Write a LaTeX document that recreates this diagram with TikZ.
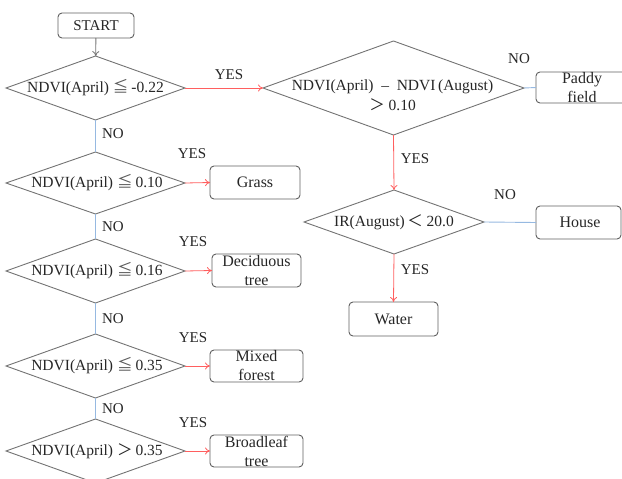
\documentclass[tikz,border=0pt]{standalone}
\usepackage{fontspec}
\setmainfont{Liberation Serif}
\newfontfamily\cjk{Noto Sans CJK SC}
\usetikzlibrary{shapes.geometric,arrows.meta}
\definecolor{diagray}{RGB}{115,115,115}
\definecolor{boxgray}{RGB}{95,95,95}
\definecolor{redline}{RGB}{255,95,95}
\definecolor{blueline}{RGB}{150,185,225}
\newcommand{\leqq}{\hspace{4pt}{\cjk\color{black!65}≦}\hspace{3pt}}
\newcommand{\fgt}{{\cjk ＞}}
\newcommand{\flt}{{\cjk ＜}}
\begin{document}
\begin{tikzpicture}[x=1pt,y=-1pt,
  every node/.style={font=\fontsize{15}{18}\selectfont, text=black!85},
  dia/.style={shape=diamond, draw=diagray, line width=0.9pt, inner sep=0pt, outer sep=0pt},
  dtext/.style={inner sep=0pt, font=\fontsize{15.5}{18.5}\selectfont},
  box/.style={draw=boxgray, line width=0.9pt, rounded corners=4pt, inner sep=0pt, outer sep=0pt, align=center, font=\fontsize{16}{18}\selectfont},
  lbl/.style={inner sep=0pt},
  yesarrow/.style={draw=redline, line width=0.8pt, -{To[length=5pt,width=7pt]}},
  noline/.style={draw=blueline, line width=0.9pt},
  startarrow/.style={draw=diagray, line width=0.8pt, -{To[length=5pt,width=7pt]}}]
\useasboundingbox (0,0) rectangle (622,479);
\clip (0,0) rectangle (622,479);

% start
\node[box, minimum width=76pt, minimum height=25pt, font=\fontsize{15}{18}\selectfont] (start) at (96,25.5) {START};

% left column diamonds
\node[dia, minimum width=179pt, minimum height=64pt] (d1) at (95.5,88) {};
\node[dtext] (t1) at (95.5,88) {NDVI(April)\leqq-0.22};
\node[dia, minimum width=179pt, minimum height=62pt] (d2) at (95.5,183) {};
\node[dtext] (t2) at (97,183) {NDVI(April)\leqq0.10};
\node[dia, minimum width=179pt, minimum height=64pt] (d3) at (95.5,271) {};
\node[dtext] (t3) at (97,271) {NDVI(April)\leqq0.16};
\node[dia, minimum width=179pt, minimum height=64pt] (d4) at (95.5,366) {};
\node[dtext] (t4) at (97,366) {NDVI(April)\leqq0.35};
\node[dia, minimum width=179pt, minimum height=64pt] (d5) at (95.5,451) {};
\node[dtext] (t5) at (97,451) {NDVI(April)\hspace{4pt}\fgt\hspace{3pt}0.35};

% right column diamonds
\node[dia, minimum width=261pt, minimum height=94pt] (d6) at (393.5,88) {};
\node[dtext, align=center] (t6) at (392.5,95) {NDVI(April)\ \ –\ \ NDVI\,(August)\\[1pt]\fgt\ 0.10};
\node[dia, minimum width=180pt, minimum height=64pt] (d7) at (394,222) {};
\node[dtext] (t7) at (394,222) {IR(August)\,\flt\ 20.0};

% result boxes
\node[box, minimum width=90pt, minimum height=33pt] (grass) at (255,182.5) {Grass};
\node[box, minimum width=89pt, minimum height=33pt] (decid) at (256.5,270.5) {Deciduous\\[1pt]tree};
\node[box, minimum width=93pt, minimum height=32pt] (mixed) at (256.5,366) {Mixed\\[1pt]forest};
\node[box, minimum width=93pt, minimum height=32pt] (broad) at (256.5,451) {Broadleaf\\[1pt]tree};
\node[box, minimum width=92pt, minimum height=31pt, text width=86pt] (paddy) at (582,87.5) {Paddy\\[1pt]field};
\node[box, minimum width=85pt, minimum height=33pt] (house) at (578.5,222.5) {\hspace*{3pt}House};
\node[box, minimum width=89pt, minimum height=34pt] (water) at (393.5,319) {Water};

% connectors
\draw[startarrow] (start) -- (d1);
\draw[yesarrow] (d1.east) -- (d6.west);
\draw[noline] (d1.south) -- (d2.north);
\draw[noline] (d2.south) -- (d3.north);
\draw[noline] (d3.south) -- (d4.north);
\draw[noline] (d4.south) -- (d5.north);
\draw[yesarrow] (d2.east) -- (grass.west);
\draw[yesarrow] (d3.east) -- (decid.west);
\draw[yesarrow] (d4.east) -- (mixed.west);
\draw[yesarrow] (d5.east) -- (broad.west);
\draw[noline] (d6.east) -- (paddy.west);
\draw[yesarrow] (d6.south) -- (d7.north);
\draw[noline] (d7.east) -- (house.west);
\draw[yesarrow] (d7.south) -- (water.north);

% labels
\node[lbl] (y1) at (229,75) {YES};
\node[lbl] (n1) at (113,134) {NO};
\node[lbl] (y2) at (192,154) {YES};
\node[lbl] (n2) at (113,227) {NO};
\node[lbl] (y3) at (193,242) {YES};
\node[lbl] (n3) at (113,319) {NO};
\node[lbl] (y4) at (193,338) {YES};
\node[lbl] (n4) at (113,409) {NO};
\node[lbl] (y5) at (193,423) {YES};
\node[lbl] (n5) at (519,59) {NO};
\node[lbl] (y6) at (415,159) {YES};
\node[lbl] (n6) at (505,195) {NO};
\node[lbl] (y7) at (415,270) {YES};
\end{tikzpicture}
\end{document}
